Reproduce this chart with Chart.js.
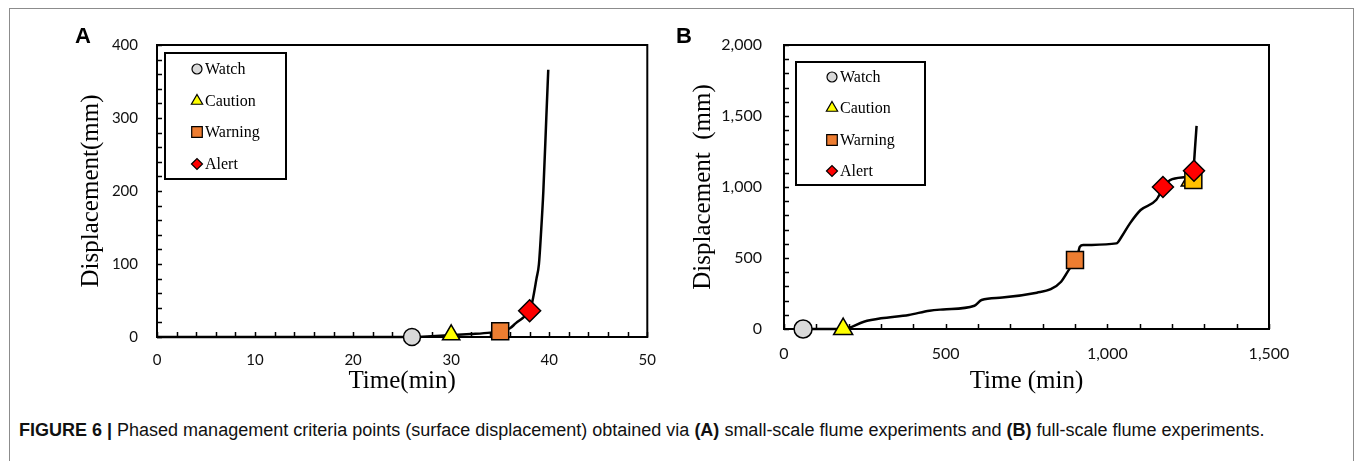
<!DOCTYPE html>
<html>
<head>
<meta charset="utf-8">
<script src="https://cdn.jsdelivr.net/npm/chart.js@4.4.0/dist/chart.umd.min.js"></script>
<style>
  body { margin: 0; background: #fff; width: 1355px; height: 461px; overflow: hidden; position: relative; font-family: "Liberation Sans", Arial, sans-serif; }
  #frame { position: absolute; left: 9px; top: 8px; width: 1343px; height: 480px; border: 1px solid #8c8c8c; }
  #wrapA { position: absolute; left: 0; top: 0; width: 670px; height: 400px; }
  #wrapB { position: absolute; left: 670px; top: 0; width: 685px; height: 400px; }
  .tag { position: absolute; top: 23px; font: bold 22px "Liberation Sans", Arial, sans-serif; }
  .legend { position: absolute; border: 2px solid #000; background: #fff; box-sizing: border-box; }
  .legend .row { position: absolute; height: 20px; font: 16px "Liberation Serif", "Times New Roman", serif; line-height: 20px; white-space: nowrap; }
  .legend canvas { position: absolute; }
  #caption { position: absolute; left: 19px; top: 420px; font-size: 18px; white-space: nowrap; color: #111; }
</style>
</head>
<body>
<div id="frame"></div>
<div id="wrapA"><canvas id="chartA" width="670" height="400"></canvas></div>
<div id="wrapB"><canvas id="chartB" width="685" height="400"></canvas></div>
<div class="tag" style="left:75px">A</div>
<div class="tag" style="left:676px">B</div>
<div class="legend" id="legA" style="left:164px; top:52px; width:123px; height:128px"></div>
<div class="legend" id="legB" style="left:795px; top:61px; width:131px; height:125px"></div>
<div id="caption"><b>FIGURE 6 |</b> Phased management criteria points (surface displacement) obtained via <b>(A)</b> small-scale flume experiments and <b>(B)</b> full-scale flume experiments.</div>

<script>
// criteria levels
const criteria = ['Watch', 'Caution', 'Warning', 'Alert'];
const critStyle = ['circle', 'triangle', 'rect', 'rectRot'];
const critColor = ['#d9d9d9', '#ffff00', '#ed7d31', '#ff0000'];

// (A) small-scale flume
const aTime = [0, 26, 28, 30, 32, 34, 35, 36, 36.6, 37.3, 38, 38.3, 38.7, 38.95, 39.15, 39.4, 39.7, 39.9];
const aDisp = [0, 0, 1, 2.5, 4, 6, 8, 12, 19, 26, 35, 50, 80, 100, 140, 200, 300, 366];
const aCritTime = [26, 30, 35, 38];
const aCritDisp = [0, 3, 8, 36];
const aXTicks = [0, 10, 20, 30, 40, 50];
const aYTicks = [0, 100, 200, 300, 400];

// (B) full-scale flume
const bTime = [60, 183, 247, 300, 386, 450, 492, 589, 611, 675, 782, 825, 857, 884, 905, 915, 926, 1028, 1044, 1070, 1103, 1151, 1172, 1194, 1237, 1265, 1272, 1276];
const bDisp = [0, 0, 51, 75, 99, 129, 138, 164, 204, 221, 256, 280, 333, 427, 486, 580, 591, 603, 650, 744, 838, 908, 990, 1049, 1068, 1108, 1300, 1430];
const bCritTime = [59, 183, 900, 1172];
const bCritDisp = [0, 0, 486, 1000];
const bLateTime = [1258, 1266, 1268];
const bLateDisp = [1046, 1049, 1114];
const bLateStyle = ['triangle', 'rect', 'rectRot'];
const bLateColor = ['#ffc000', '#ffc000', '#ff0000'];
const bXTicks = [0, 500, 1000, 1500];
const bYTicks = [0, 500, 1000, 1500, 2000];

const serif = '"Liberation Serif", "Times New Roman", serif';
const sans = 'Lato, "Liberation Sans", sans-serif';

// box round the plot area and short inward ticks on the left and bottom axes
const framePlugin = {
  id: 'frame',
  beforeDatasetsDraw(chart, args, opts) {
    const { ctx, chartArea: a, scales: { x, y } } = chart;
    ctx.save();
    ctx.strokeStyle = '#000';
    ctx.lineWidth = 1.5;
    ctx.beginPath();
    for (let v = x.min; v <= x.max + 1e-9; v += opts.xMinor) {
      const px = Math.round(x.getPixelForValue(v)) + 0.5;
      ctx.moveTo(px, a.bottom);
      ctx.lineTo(px, a.bottom - 5);
    }
    for (let v = y.min; v <= y.max + 1e-9; v += opts.yMinor) {
      const py = Math.round(y.getPixelForValue(v)) + 0.5;
      ctx.moveTo(a.left, py);
      ctx.lineTo(a.left + 5, py);
    }
    ctx.stroke();
    ctx.lineWidth = 2;
    ctx.strokeRect(a.left, a.top, a.right - a.left, a.bottom - a.top);
    ctx.restore();
  }
};

function pointSet(label, t, d, style, color, radius, order) {
  return {
    label: label,
    data: [{ x: t, y: d }],
    pointStyle: style,
    pointRadius: radius,
    pointHoverRadius: radius,
    pointBackgroundColor: color,
    pointBorderColor: '#000',
    pointBorderWidth: 1.5,
    clip: false,
    order: order,
  };
}

function curveSet(t, d) {
  return {
    label: 'curve',
    data: t.map((v, i) => ({ x: v, y: d[i] })),
    showLine: true,
    borderColor: '#000',
    borderWidth: 2.5,
    pointRadius: 0,
    cubicInterpolationMode: 'monotone',
    clip: false,
    order: 10,
  };
}

function build(id, o) {
  return new Chart(document.getElementById(id), {
    type: 'scatter',
    data: { datasets: o.datasets },
    options: {
      responsive: false,
      animation: false,
      devicePixelRatio: 1,
      layout: { padding: o.pad },
      plugins: {
        legend: { display: false },
        tooltip: { enabled: false },
        frame: { xMinor: o.xMinor, yMinor: o.yMinor },
      },
      scales: {
        x: {
          type: 'linear',
          min: o.xTicks[0],
          max: o.xTicks[o.xTicks.length - 1],
          afterBuildTicks: (s) => { s.ticks = o.xTicks.map((v) => ({ value: v })); },
          afterFit: (s) => { s.height = o.xH; },
          grid: { display: false, drawTicks: false },
          border: { display: false },
          ticks: { padding: o.xPad, maxRotation: 0, color: '#111', font: { family: sans, size: o.tickSize } },
          title: { display: true, text: o.xTitle, color: '#000', font: { family: serif, size: 25 }, padding: { top: 0, bottom: 4 } },
        },
        y: {
          type: 'linear',
          min: o.yTicks[0],
          max: o.yTicks[o.yTicks.length - 1],
          afterBuildTicks: (s) => { s.ticks = o.yTicks.map((v) => ({ value: v })); },
          afterFit: (s) => { s.width = o.yW; },
          grid: { display: false, drawTicks: false },
          border: { display: false },
          ticks: { padding: o.yPad, color: '#111', font: { family: sans, size: o.tickSize } },
          title: { display: true, text: o.yTitle, color: '#000', font: { family: serif, size: 25 }, padding: { top: o.yTitleOff, bottom: 0 } },
        },
      },
    },
    plugins: [framePlugin],
  });
}

const aRadius = [8.5, 10, 12, 11];
const bRadius = [9, 11, 12, 10.5];

const aSets = criteria.map((n, i) => pointSet(n, aCritTime[i], aCritDisp[i], critStyle[i], critColor[i], aRadius[i], 4 - i));
aSets.push(curveSet(aTime, aDisp));

const bSets = criteria.map((n, i) => pointSet(n, bCritTime[i], bCritDisp[i], critStyle[i], critColor[i], bRadius[i], 4 - i));
bLateTime.forEach((t, j) => {
  bSets.push(pointSet('late', t, bLateDisp[j], bLateStyle[j], bLateColor[j], [11, 12, 10.5][j], 3 - j));
});
bSets.push(curveSet(bTime, bDisp));

build('chartA', {
  datasets: aSets, xTicks: aXTicks, yTicks: aYTicks, xMinor: 2, yMinor: 20,
  pad: { left: 0, top: 45, right: 16, bottom: 0 }, xH: 63, yW: 157,
  xPad: 14, yPad: 19, tickSize: 15, yTitleOff: 76,
  xTitle: 'Time(min)', yTitle: 'Displacement(mm)',
});

build('chartB', {
  datasets: bSets, xTicks: bXTicks, yTicks: bYTicks, xMinor: 100, yMinor: 100,
  pad: { left: 0, top: 45, right: 86, bottom: 0 }, xH: 71, yW: 114,
  xPad: 15, yPad: 22, tickSize: 16, yTitleOff: 18,
  xTitle: 'Time (min)', yTitle: 'Displacement  (mm)',
});

// legend boxes: small marker drawn with Chart.js helper + text label
const legendSizes = [5, 6.5, 7.5, 5.5];
function fillLegend(id, markX, textX, firstRow, rowStep) {
  const box = document.getElementById(id);
  criteria.forEach((name, i) => {
    const cy = firstRow + i * rowStep;
    const c = document.createElement('canvas');
    c.width = 18; c.height = 18;
    c.style.left = (markX - 9) + 'px';
    c.style.top = (cy - 9) + 'px';
    const ctx = c.getContext('2d');
    ctx.fillStyle = critColor[i];
    ctx.strokeStyle = '#000';
    ctx.lineWidth = 1.2;
    Chart.helpers.drawPoint(ctx, { pointStyle: critStyle[i], radius: legendSizes[i], rotation: 0, borderWidth: 1.2 }, 9, 9);
    box.appendChild(c);
    const row = document.createElement('div');
    row.className = 'row';
    row.style.left = textX + 'px';
    row.style.top = (cy - 10) + 'px';
    row.textContent = name;
    box.appendChild(row);
  });
}
fillLegend('legA', 31, 39, 15, 31.5);
fillLegend('legB', 35, 43, 14, 31.3);
</script>
</body>
</html>
